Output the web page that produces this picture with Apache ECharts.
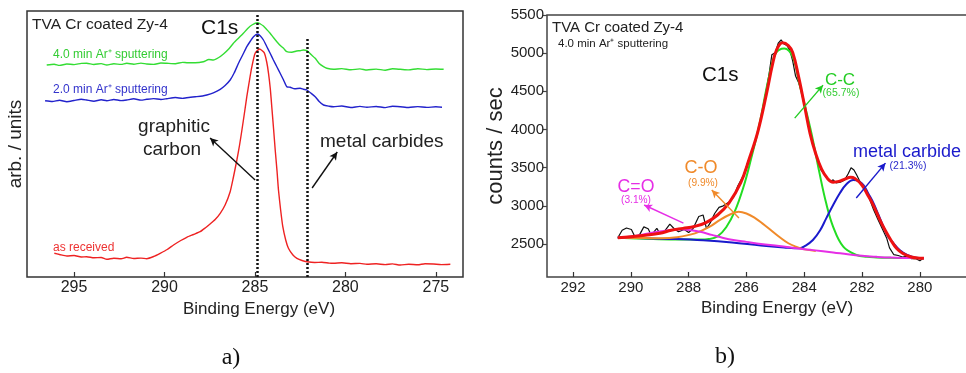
<!DOCTYPE html>
<html lang="en">
<head>
<meta charset="UTF-8">
<title>C1s XPS - TVA Cr coated Zy-4</title>
<script src="https://cdn.jsdelivr.net/npm/echarts@6/dist/echarts.min.js"></script>
<style>
    html, body { margin: 0; padding: 0; background: #fff; }
    #container { width: 966px; height: 373px; }
</style>
</head>
<body>
<div id="container"></div>
<script>
    // ---- panel a) : stacked survey of C1s after sputtering (arb. units) ----
    var aTicks = [275, 280, 285, 290, 295];
    var aRefLines = [284.9, 282.1];           // graphitic carbon / metal carbides
    var asReceived = [
        [296.09, 23.7], [295.8, 22.5], [295.4, 21], [295.0, 21.5], [294.6, 20], [294.3, 20.3],
        [293.9, 19.2], [293.5, 19.5], [293.19, 17.7], [292.8, 18.8], [292.4, 18.2], [292.09, 19.7],
        [291.7, 18.5], [291.3, 18.9], [290.98, 18.3], [290.6, 20.5], [290.24, 23.7], [289.85, 27.5],
        [289.5, 32], [289.1, 36.5], [288.77, 39.7], [288.4, 42.5], [288.03, 45.3], [287.75, 49],
        [287.48, 53], [287.2, 57.5], [286.92, 63.7], [286.65, 72], [286.37, 85.3], [286.2, 99],
        [286.0, 117], [285.85, 132], [285.72, 147], [285.58, 164], [285.45, 180.3], [285.3, 197],
        [285.17, 210.3], [284.99, 223.7], [284.75, 228], [284.49, 224.3], [284.35, 215],
        [284.25, 203.7], [284.15, 188], [284.07, 170.3], [283.97, 148], [283.88, 127], [283.78, 106],
        [283.7, 87], [283.58, 67], [283.46, 50.3], [283.3, 37], [283.15, 28.7], [282.9, 22],
        [282.68, 18.7], [282.4, 16.5], [282.13, 15.3], [281.7, 14.5], [281.3, 14.8], [280.9, 13.9],
        [280.66, 13.7], [280.2, 14.2], [279.7, 13.3], [279.2, 13.6], [278.81, 12.7], [278.3, 13.2],
        [277.8, 12.4], [277.4, 13.1], [276.97, 12], [276.5, 12.8], [276.0, 12.2], [275.6, 13.3],
        [275.13, 13], [274.7, 12.4], [274.2, 12.7]
    ];
    var sput20 = [
        [296.6, 176.3], [296.2, 175.5], [295.8, 176.8], [295.4, 175.3], [295.0, 176.5], [294.6, 177.8],
        [294.3, 177], [293.9, 175.8], [293.5, 177.2], [293.19, 176.3], [292.8, 177.5], [292.4, 176.4],
        [292.09, 177], [291.7, 178.2], [291.3, 176.9], [290.98, 177.7], [290.6, 178.4], [290.2, 177.5],
        [289.87, 178.3], [289.4, 179.5], [289.0, 178.6], [288.77, 179.3], [288.3, 180.2], [287.9, 181],
        [287.66, 182], [287.3, 184.2], [286.92, 187.7], [286.65, 191.5], [286.37, 197], [286.15, 204],
        [285.91, 213.7], [285.68, 222], [285.45, 230.3], [285.25, 236], [285.08, 240.3], [284.86, 243],
        [284.7, 241], [284.53, 237], [284.35, 230.5], [284.16, 223.7], [283.98, 217], [283.79, 210.3],
        [283.6, 203.5], [283.42, 197], [283.24, 190.3], [283.05, 189.7], [282.8, 188.2], [282.5, 188.7],
        [282.32, 187.7], [282.13, 187], [281.9, 183.8], [281.67, 180.3], [281.45, 175.5], [281.21, 172],
        [280.9, 170.8], [280.66, 170.3], [280.2, 171], [279.7, 169.5], [279.2, 170.6], [278.81, 169.7],
        [278.3, 170.5], [277.8, 169.4], [277.4, 170.8], [276.97, 170.3], [276.5, 169.5], [276.0, 170.4],
        [275.5, 169.6], [275.0, 170.2], [274.66, 169.7]
    ];
    var sput40 = [
        [296.51, 212], [296.1, 212.8], [295.8, 211.6], [295.4, 213], [295.0, 212.4], [294.6, 213.6],
        [294.3, 213.7], [293.9, 212.5], [293.5, 213.4], [293.19, 212], [292.8, 213.2], [292.4, 212.6],
        [292.09, 213.7], [291.7, 212.8], [291.3, 213.9], [290.98, 213], [290.6, 212.6], [290.2, 214],
        [289.87, 213.7], [289.4, 213.3], [289.0, 214.6], [288.77, 214.3], [288.3, 214.2], [287.85, 215.3],
        [287.55, 217.5], [287.3, 217], [287.0, 219.5], [286.74, 223], [286.45, 228], [286.19, 233.7],
        [285.9, 239], [285.64, 243.7], [285.4, 248.5], [285.17, 252], [284.86, 254.3], [284.7, 253],
        [284.53, 251], [284.35, 247.5], [284.16, 243.7], [283.98, 239.5], [283.79, 235.3], [283.6, 231.5],
        [283.42, 228.7], [283.24, 225.3], [282.96, 224.7], [282.7, 226], [282.5, 226.3], [282.32, 227],
        [282.13, 226.3], [281.9, 222.5], [281.67, 218.7], [281.45, 213.5], [281.21, 210.3], [281.03, 208.7],
        [280.66, 207.7], [280.2, 208.4], [279.7, 207.2], [279.2, 208.1], [278.81, 207], [278.3, 207.9],
        [277.8, 206.8], [277.4, 208.2], [276.97, 207.7], [276.5, 207.1], [276.0, 208.3], [275.5, 207.4],
        [275.0, 208], [274.57, 207.7]
    ];
    // arrows [from, to] in (eV, arb.)
    var aArrows = [
        [[284.99, 97], [287.48, 139]],
        [[281.84, 89], [280.45, 125]]
    ];

    // ---- panel b) : curve fit after 4.0 min Ar+ sputtering ----
    var bTicksX = [280, 282, 284, 286, 288, 290, 292];
    var bTicksY = [2500, 3000, 3500, 4000, 4500, 5000, 5500];
    var rawCounts = [
        [290.45, 2582], [290.3, 2680], [290.15, 2710], [289.98, 2690], [289.85, 2590], [289.7, 2620],
        [289.55, 2725], [289.4, 2700], [289.3, 2620], [289.2, 2660], [289.1, 2705], [289.0, 2640],
        [288.85, 2660], [288.65, 2760], [288.5, 2700], [288.35, 2660], [288.15, 2690], [288.0, 2650],
        [287.85, 2700], [287.65, 2860], [287.5, 2880], [287.38, 2700], [287.25, 2780], [287.1, 2900],
        [286.95, 2980], [286.8, 3000], [286.6, 3050], [286.45, 3110], [286.3, 3260], [286.1, 3400],
        [285.95, 3580], [285.8, 3690], [285.65, 3900], [285.5, 4150], [285.35, 4440], [285.22, 4720],
        [285.12, 4980], [285.0, 5010], [284.9, 5130], [284.8, 5175], [284.7, 5120], [284.6, 5100],
        [284.5, 5040], [284.4, 4900], [284.3, 4700], [284.2, 4620], [284.1, 4500], [284.0, 4330],
        [283.85, 4100], [283.7, 3820], [283.55, 3620], [283.42, 3470], [283.3, 3410], [283.2, 3360],
        [283.1, 3320], [283.0, 3340], [282.9, 3300], [282.75, 3310], [282.6, 3340], [282.48, 3420],
        [282.38, 3500], [282.28, 3470], [282.18, 3400], [282.05, 3300], [281.9, 3210], [281.75, 3100],
        [281.6, 2950], [281.45, 2820], [281.3, 2700], [281.15, 2580], [281.05, 2450], [280.9, 2360],
        [280.75, 2350], [280.6, 2330], [280.45, 2340], [280.3, 2310], [280.15, 2310], [280.0, 2280],
        [279.9, 2310]
    ];
    var fitEnvelope = [
        [290.45, 2582], [290.0, 2595], [289.5, 2615], [289.0, 2640], [288.6, 2680], [288.2, 2705],
        [287.8, 2730], [287.4, 2780], [287.0, 2880], [286.6, 3040], [286.2, 3300], [285.9, 3620],
        [285.6, 3980], [285.3, 4480], [285.1, 4850], [284.95, 5050], [284.75, 5135], [284.55, 5100],
        [284.4, 5010], [284.2, 4700], [284.0, 4330], [283.8, 3950], [283.6, 3680], [283.4, 3480],
        [283.2, 3360], [283.0, 3310], [282.8, 3320], [282.6, 3350], [282.4, 3375], [282.25, 3360],
        [282.0, 3270], [281.8, 3140], [281.6, 3000], [281.4, 2830], [281.2, 2680], [281.0, 2550],
        [280.8, 2440], [280.6, 2380], [280.3, 2330], [280.0, 2315], [279.86, 2313]
    ];
    var peakCC = [
        [290.45, 2582], [289.5, 2570], [288.5, 2560], [287.6, 2558], [287.3, 2565], [287.0, 2600],
        [286.7, 2720], [286.4, 2930], [286.1, 3250], [285.85, 3600], [285.57, 4035], [285.22, 4690],
        [284.99, 4996], [284.69, 5062], [284.4, 4952], [284.17, 4604], [283.94, 4254], [283.7, 3861],
        [283.47, 3425], [283.24, 3033], [283.0, 2726], [282.65, 2465], [282.19, 2356], [281.84, 2332],
        [281.5, 2325], [281.0, 2320], [280.5, 2317], [279.86, 2313]
    ];
    var peakCarbide = [
        [290.45, 2582], [289.5, 2575], [288.5, 2565], [287.5, 2548], [286.5, 2520], [285.5, 2480],
        [284.7, 2455], [284.17, 2444], [283.95, 2480], [283.7, 2552], [283.45, 2680], [283.24, 2836],
        [283.0, 3010], [282.77, 3164], [282.55, 3280], [282.3, 3338], [282.1, 3320], [281.95, 3272],
        [281.78, 3160], [281.6, 3033], [281.43, 2880], [281.26, 2726], [281.1, 2600], [280.91, 2509],
        [280.7, 2420], [280.44, 2356], [280.2, 2325], [279.86, 2313]
    ];
    var peakCO = [
        [290.45, 2582], [289.5, 2578], [288.95, 2575], [288.4, 2590], [287.78, 2640], [287.3, 2720],
        [286.9, 2820], [286.55, 2890], [286.27, 2923], [286.0, 2900], [285.7, 2840], [285.45, 2771],
        [285.15, 2680], [284.87, 2596], [284.55, 2510], [284.29, 2465], [284.0, 2430], [283.6, 2410]
    ];
    var peakCdO = [
        [290.45, 2582], [290.0, 2600], [289.5, 2630], [289.0, 2665], [288.6, 2685], [288.3, 2692],
        [288.0, 2685], [287.6, 2660], [287.2, 2620], [286.8, 2580], [286.4, 2550], [286.0, 2528],
        [285.5, 2500], [284.87, 2474], [284.2, 2440], [283.7, 2420], [283.0, 2390], [282.5, 2365],
        [282.0, 2345], [281.5, 2332], [281.0, 2322], [280.5, 2317], [279.86, 2313]
    ];
    // arrows [from, to] in (eV, counts)
    var bArrows = [
        [[284.33, 4149], [283.35, 4581], '#22cc22'],
        [[282.2, 3102], [281.19, 3560], '#1a1acc'],
        [[286.26, 2840], [287.2, 3207], '#f08a2a'],
        [[288.18, 2775], [289.54, 3011], '#e62ee6']
    ];

    var FONT = '"Liberation Sans", Arial, Helvetica, sans-serif';
    var SERIF = '"Liberation Serif", "Times New Roman", serif';

    function arrowLines(list, defColor) {
        return list.map(function (a) {
            var c = a[2] || defColor;
            return [
                { coord: a[0], symbol: 'none', lineStyle: { color: c, width: 1.4, type: 'solid' } },
                { coord: a[1], symbol: 'arrow', symbolSize: [6, 8] }
            ];
        });
    }

    function txt(text, x, y, size, color, align, family) {
        return {
            type: 'text', silent: true,
            style: {
                text: text, x: x, y: y,
                font: size + 'px ' + (family || FONT),
                fill: color || '#222',
                textAlign: align || 'left',
                textVerticalAlign: 'middle'
            }
        };
    }

    var dom = document.getElementById('container');
    var myChart = echarts.init(dom, null, { renderer: 'canvas' });

    var option = {
        animation: false,
        textStyle: { fontFamily: FONT },
        grid: [
            { left: 27, top: 11, width: 436, height: 266, show: true, borderColor: '#333', borderWidth: 1.5,
              outerBoundsMode: 'none', containLabel: false },
            { left: 547, top: 15, right: -3, height: 262, show: true, borderColor: '#444', borderWidth: 1.5,
              outerBoundsMode: 'none', containLabel: false }
        ],
        xAxis: [
            {
                gridIndex: 0, type: 'value', inverse: true, min: 273.5, max: 297.6,
                name: 'Binding Energy (eV)', nameLocation: 'middle', nameGap: 14,
                nameTextStyle: { fontSize: 17, color: '#222', padding: [0, 0, 0, 28] },
                axisLine: { show: false },
                axisTick: { inside: true, length: 5, customValues: aTicks, lineStyle: { color: '#333', width: 1.2 } },
                axisLabel: { customValues: aTicks, fontSize: 16, color: '#222', margin: 3 },
                splitLine: { show: false }
            },
            {
                gridIndex: 1, type: 'value', inverse: true, min: 278.3, max: 292.9,
                name: 'Binding Energy (eV)', nameLocation: 'middle', nameGap: 14,
                nameTextStyle: { fontSize: 17, color: '#222', padding: [0, 0, 0, 38] },
                axisLine: { show: false },
                axisTick: { inside: true, length: 5, customValues: bTicksX, lineStyle: { color: '#333', width: 1.2 } },
                axisLabel: { customValues: bTicksX, fontSize: 15, color: '#222', margin: 3 },
                splitLine: { show: false }
            }
        ],
        yAxis: [
            {
                gridIndex: 0, type: 'value', min: 0, max: 266,
                name: 'arb. / units', nameLocation: 'middle', nameGap: 2, nameRotate: 90,
                nameTextStyle: { fontSize: 19, color: '#222' },
                axisLine: { show: false }, axisTick: { show: false }, axisLabel: { show: false },
                splitLine: { show: false }
            },
            {
                gridIndex: 1, type: 'value', min: 2068, max: 5500,
                name: 'counts / sec', nameLocation: 'middle', nameGap: 37, nameRotate: 90,
                nameTextStyle: { fontSize: 22, color: '#222' },
                axisLine: { show: false },
                axisTick: { inside: false, length: 4, customValues: bTicksY, lineStyle: { color: '#444', width: 1.2 } },
                axisLabel: {
                    customValues: bTicksY, fontSize: 15, color: '#222', margin: 3,
                    formatter: function (v) { return String(v); }
                },
                splitLine: { show: false }
            }
        ],
        series: [
            {
                name: 'as received', type: 'line', xAxisIndex: 0, yAxisIndex: 0,
                data: asReceived, showSymbol: false, smooth: 0.2,
                lineStyle: { color: '#ee2222', width: 1.4 },
                markLine: {
                    silent: true, animation: false, label: { show: false },
                    lineStyle: { color: '#111', width: 2.5, type: [2, 2] },
                    symbol: ['none', 'none'],
                    data: [
                        [{ coord: [aRefLines[0], 0] }, { coord: [aRefLines[0], 262] }],
                        [{ coord: [aRefLines[1], 0] }, { coord: [aRefLines[1], 238] }]
                    ]
                }
            },
            {
                name: '2.0 min', type: 'line', xAxisIndex: 0, yAxisIndex: 0,
                data: sput20, showSymbol: false, smooth: 0.2,
                lineStyle: { color: '#2222cc', width: 1.4 }
            },
            {
                name: '4.0 min', type: 'line', xAxisIndex: 0, yAxisIndex: 0,
                data: sput40, showSymbol: false, smooth: 0.2,
                lineStyle: { color: '#33dd33', width: 1.4 },
                markLine: {
                    silent: true, animation: false, label: { show: false },
                    lineStyle: { color: '#111', width: 1.4, type: 'solid' },
                    data: arrowLines(aArrows, '#111')
                }
            },
            {
                name: 'raw', type: 'line', xAxisIndex: 1, yAxisIndex: 1,
                data: rawCounts, showSymbol: false,
                lineStyle: { color: '#111', width: 1.2 }
            },
            {
                name: 'C-C', type: 'line', xAxisIndex: 1, yAxisIndex: 1,
                data: peakCC, showSymbol: false, smooth: 0.4,
                lineStyle: { color: '#22dd22', width: 2 }
            },
            {
                name: 'metal carbide', type: 'line', xAxisIndex: 1, yAxisIndex: 1,
                data: peakCarbide, showSymbol: false, smooth: 0.4,
                lineStyle: { color: '#1a1acc', width: 2 }
            },
            {
                name: 'C-O', type: 'line', xAxisIndex: 1, yAxisIndex: 1,
                data: peakCO, showSymbol: false, smooth: 0.4,
                lineStyle: { color: '#f08a2a', width: 2 }
            },
            {
                name: 'C=O', type: 'line', xAxisIndex: 1, yAxisIndex: 1,
                data: peakCdO, showSymbol: false, smooth: 0.4,
                lineStyle: { color: '#e62ee6', width: 2 }
            },
            {
                name: 'fit', type: 'line', xAxisIndex: 1, yAxisIndex: 1,
                data: fitEnvelope, showSymbol: false, smooth: 0.4,
                lineStyle: { color: '#ee1111', width: 3 },
                markLine: {
                    silent: true, animation: false, label: { show: false },
                    data: arrowLines(bArrows, '#111')
                }
            }
        ],
        graphic: [
            // panel a
            txt('TVA Cr coated Zy-4', 32, 25, 15.5, '#222'),
            txt('C1s', 201, 28, 21, '#111'),
            txt('4.0 min Ar\u207A sputtering', 53, 55, 12, '#33cc33'),
            txt('2.0 min Ar\u207A sputtering', 53, 90, 12, '#3333cc'),
            txt('graphitic', 174, 127, 19, '#222', 'center'),
            txt('carbon', 172, 150, 19, '#222', 'center'),
            txt('metal carbides', 320, 142, 19, '#222'),
            txt('as received', 53, 248, 12, '#ee3333'),
            txt('a)', 231, 358, 24, '#111', 'center', SERIF),
            // panel b
            txt('TVA Cr coated Zy-4', 552, 28, 15, '#222'),
            txt('4.0 min Ar\u207A sputtering', 558, 44, 11.5, '#222'),
            txt('C1s', 702, 75, 20.5, '#111'),
            txt('C-C', 840, 80, 17, '#22cc22', 'center'),
            txt('(65.7%)', 841, 93, 10.5, '#33cc33', 'center'),
            txt('metal carbide', 853, 152, 18, '#1a1acc'),
            txt('(21.3%)', 908, 166, 10.5, '#2a2acc', 'center'),
            txt('C-O', 701, 168, 18, '#f08a2a', 'center'),
            txt('(9.9%)', 703, 183, 10.2, '#f08a2a', 'center'),
            txt('C=O', 636, 187, 17.7, '#e62ee6', 'center'),
            txt('(3.1%)', 636, 200, 10.2, '#e62ee6', 'center'),
            txt('b)', 725, 357, 24, '#111', 'center', SERIF)
        ]
    };

    myChart.setOption(option);
</script>
</body>
</html>
